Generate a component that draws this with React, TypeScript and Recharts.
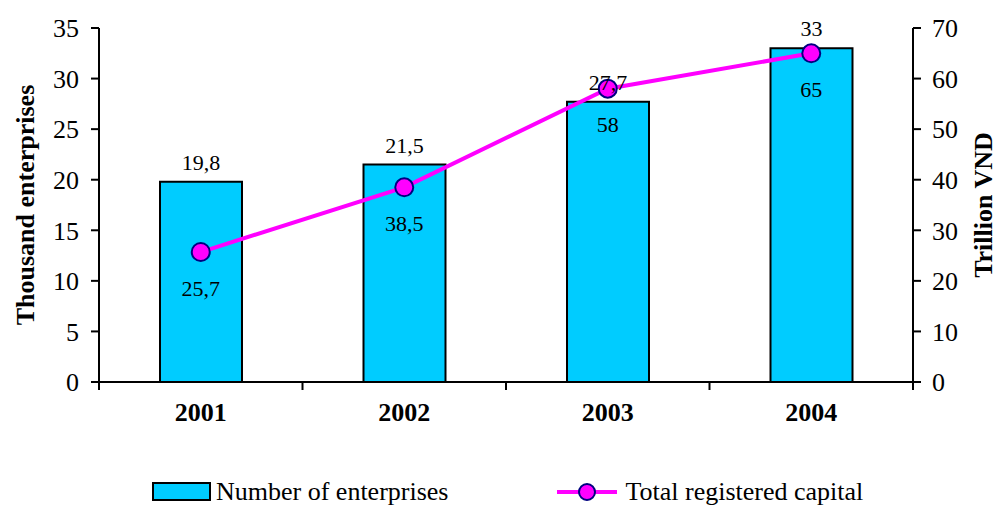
import { ComposedChart, Bar, Line, XAxis, YAxis, Legend, LabelList } from 'recharts'

const YEARS = ['2001', '2002', '2003', '2004']
const ENTERPRISES = [19.8, 21.5, 27.7, 33]
const CAPITAL = [25.7, 38.5, 58, 65]
const LEFT_TICKS = [0, 5, 10, 15, 20, 25, 30, 35]
const RIGHT_TICKS = [0, 10, 20, 30, 40, 50, 60, 70]

const FONT = '"Liberation Serif", "Times New Roman", serif'
const CYAN = '#00CCFF'
const MAGENTA = '#FF00FF'
const NAVY = '#000080'

const data = YEARS.map((year, i) => ({
  year,
  enterprises: ENTERPRISES[i],
  capital: CAPITAL[i],
}))

const fmt = (v: number) => String(v).replace('.', ',')

const YearTick = (props: any) => {
  const { x, y, payload, index } = props
  const half = payload?.offset ?? 101.75
  return (
    <g>
      <line x1={x - half} x2={x - half} y1={y} y2={y + 8} stroke='#000' strokeWidth={2} />
      {index === YEARS.length - 1 && (
        <line x1={x + half} x2={x + half} y1={y} y2={y + 8} stroke='#000' strokeWidth={2} />
      )}
      <text x={x} y={y + 39} textAnchor='middle' fontFamily={FONT} fontSize={26} fontWeight='bold' fill='#000'>
        {payload.value}
      </text>
    </g>
  )
}

const axisTitle = (value: string, dx: number) => (props: any) => {
  const { viewBox } = props
  const cx = viewBox.x + dx
  const cy = viewBox.y + viewBox.height / 2
  return (
    <text
      x={cx}
      y={cy}
      transform={`rotate(-90 ${cx} ${cy})`}
      textAnchor='middle'
      dominantBaseline='central'
      fontFamily={FONT}
      fontSize={26}
      fontWeight='bold'
      fill='#000'
    >
      {value}
    </text>
  )
}

const LegendContent = () => (
  <div
    style={{
      height: 30,
      display: 'flex',
      alignItems: 'center',
      paddingLeft: 152,
      paddingTop: 4,
      boxSizing: 'border-box',
      fontFamily: FONT,
      fontSize: 26,
      lineHeight: '26px',
      color: '#000',
    }}
  >
    <svg width={60} height={20} style={{ marginRight: 4 }}>
      <rect x={1} y={1} width={57} height={17} fill={CYAN} stroke='#000' strokeWidth={2} />
    </svg>
    <span>Number of enterprises</span>
    <svg width={64} height={22} style={{ marginLeft: 107, marginRight: 6 }}>
      <line x1={2} x2={62} y1={11} y2={11} stroke={MAGENTA} strokeWidth={4} />
      <circle cx={32} cy={11} r={8} fill={MAGENTA} stroke={NAVY} strokeWidth={2} />
    </svg>
    <span>Total registered capital</span>
  </div>
)

export default function App() {
  return (
    <div style={{ position: 'absolute', left: 0, top: 0, background: '#fff' }}>
      <ComposedChart width={996} height={505} data={data} margin={{ top: 28, right: 0, bottom: 0, left: 0 }}>
        <XAxis
          dataKey='year'
          height={93}
          tickSize={0}
          tickMargin={0}
          tickLine={false}
          axisLine={{ stroke: '#000', strokeWidth: 2 }}
          tick={<YearTick />}
          interval={0}
        />
        <YAxis
          yAxisId='left'
          orientation='left'
          width={99}
          domain={[0, 35]}
          ticks={LEFT_TICKS}
          interval={0}
          tickSize={8}
          tickMargin={12}
          axisLine={{ stroke: '#000', strokeWidth: 2 }}
          tickLine={{ stroke: '#000', strokeWidth: 2 }}
          tick={{ fill: '#000', fontFamily: FONT, fontSize: 26 }}
          label={{ content: axisTitle('Thousand enterprises', 25) }}
        />
        <YAxis
          yAxisId='right'
          orientation='right'
          width={83}
          domain={[0, 70]}
          ticks={RIGHT_TICKS}
          interval={0}
          tickSize={8}
          tickMargin={11}
          axisLine={{ stroke: '#000', strokeWidth: 2 }}
          tickLine={{ stroke: '#000', strokeWidth: 2 }}
          tick={{ fill: '#000', fontFamily: FONT, fontSize: 26 }}
          label={{ content: axisTitle('Trillion VND', 70) }}
        />
        <Legend verticalAlign='bottom' height={30} content={<LegendContent />} />
        <Bar
          yAxisId='left'
          dataKey='enterprises'
          name='Number of enterprises'
          fill={CYAN}
          stroke='#000'
          strokeWidth={2}
          barSize={82}
          isAnimationActive={false}
        >
          <LabelList
            dataKey='enterprises'
            position='top'
            offset={12}
            formatter={(v: any) => fmt(v)}
            style={{ fill: '#000', fontFamily: FONT, fontSize: 22 }}
          />
        </Bar>
        <Line
          yAxisId='right'
          dataKey='capital'
          name='Total registered capital'
          stroke={MAGENTA}
          strokeWidth={4}
          dot={{ r: 9, fill: MAGENTA, stroke: NAVY, strokeWidth: 2 }}
          activeDot={false}
          isAnimationActive={false}
        >
          <LabelList
            dataKey='capital'
            position='bottom'
            offset={28}
            formatter={(v: any) => fmt(v)}
            style={{ fill: '#000', fontFamily: FONT, fontSize: 22 }}
          />
        </Line>
      </ComposedChart>
    </div>
  )
}
